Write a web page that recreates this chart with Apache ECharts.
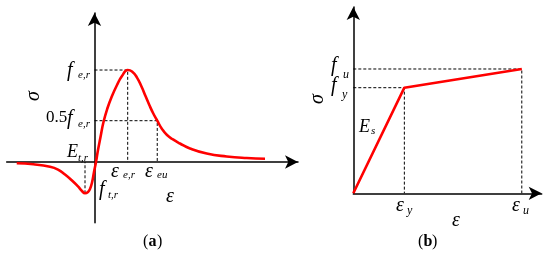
<!DOCTYPE html>
<html><head><meta charset="utf-8">
<script src="https://cdn.jsdelivr.net/npm/echarts@6/dist/echarts.min.js"></script>
<style>html,body{margin:0;padding:0;background:#fff;}#c{width:550px;height:263px;}</style>
</head><body><div id="c"></div>
<script>
// Panel (a): concrete stress-strain curve (normalised: eps/eps_e,r, sigma/f_e,r)
const concreteEps = [-2.343,-1.843,-1.340,-1.099,-0.889,-0.678,-0.497,-0.377,-0.286,-0.196,-0.136,-0.075,-0.015,0.045,0.105,0.181,0.271,0.392,0.527,0.678,0.828,1.0,1.130,1.280,1.422,1.536,1.651,1.771,1.890,2.033,2.184,2.364,2.575,2.877,3.380,3.982,4.584,5.136];
const concreteSig = [-0.014,-0.025,-0.051,-0.082,-0.136,-0.201,-0.266,-0.315,-0.340,-0.326,-0.293,-0.223,-0.109,0,0.130,0.272,0.435,0.587,0.717,0.837,0.935,1.0,0.984,0.918,0.815,0.717,0.620,0.527,0.449,0.359,0.293,0.245,0.201,0.147,0.092,0.060,0.043,0.036];
const peakPoint = [1.0, 1.0];      // (eps_e,r , f_e,r)
const halfPoint = [1.89, 0.449];   // (eps_eu , 0.5 f_e,r)
const tensPoint = [-0.286, -0.34]; // tensile peak f_t,r
const axisA = {xMin: -2.645, xMax: 6.13, yMin: -0.66, yMax: 1.62};

// Panel (b): steel bilinear model (normalised: eps/eps_y, sigma/f_y)
const steelEps = [0, 1, 3.30];
const steelSig = [0, 1, 1.177];
const axisB = {xMin: 0, xMax: 3.69, yMin: 0, yMax: 1.764};

const red = '#ff0000';
const chart = echarts.init(document.getElementById('c'), null, {renderer: 'canvas'});

function zip(a, b) { return a.map((v, i) => [v, b[i]]); }
function dashed(data, xi, yi) {
  return {type: 'line', xAxisIndex: xi, yAxisIndex: yi, data: data, showSymbol: false, silent: true,
    lineStyle: {color: '#000', width: 1, type: [3, 2]}, z: 1};
}
function axisCommon(extra) {
  return Object.assign({
    type: 'value',
    axisLine: {show: true, onZero: true, symbol: ['none', 'arrow'], symbolSize: [10, 13],
      lineStyle: {color: '#000', width: 1.5}},
    axisTick: {show: false}, axisLabel: {show: false}, splitLine: {show: false}
  }, extra);
}

const serif = 'Liberation Serif';
function txt(x, y, s, size, opts) {
  opts = opts || {};
  return {type: 'text', x: x, y: y, rotation: opts.rot || 0, silent: true,
    style: {text: s, fontFamily: serif, fontSize: size, fontStyle: opts.style || 'italic',
      fontWeight: opts.weight || 'normal',
      fill: '#000', align: opts.align || 'left', verticalAlign: opts.va || 'middle'}};
}

const labels = [
  // panel (a)
  txt(34, 96, 'σ', 20, {rot: Math.PI / 2, align: 'center'}),
  txt(67, 71, 'f', 20), txt(78, 75, 'e,r', 11),
  txt(46, 118, '0.5', 17, {style: 'normal'}), txt(67, 119, 'f', 20), txt(78, 124, 'e,r', 11),
  txt(67, 152, 'E', 18), txt(78, 158, 't,r', 11),
  txt(111, 172, 'ε', 20), txt(123, 175, 'e,r', 11),
  txt(145, 172, 'ε', 20), txt(157, 175, 'eu', 11),
  txt(99, 190, 'f', 20), txt(108, 195, 't,r', 11),
  txt(166, 197, 'ε', 20),
  txt(143, 242, '(', 16, {style: 'normal'}), txt(148.5, 242, 'a', 16, {style: 'normal', weight: 'bold'}), txt(157, 242, ')', 16, {style: 'normal'}),
  // panel (b)
  txt(318, 99, 'σ', 20, {rot: Math.PI / 2, align: 'center'}),
  txt(331, 66, 'f', 20), txt(343, 75, 'u', 12),
  txt(331, 86, 'f', 20), txt(342, 95, 'y', 12),
  txt(359, 127, 'E', 18), txt(371, 131, 's', 11),
  txt(396, 206, 'ε', 20), txt(407, 211, 'y', 12),
  txt(512, 206, 'ε', 20), txt(523, 211, 'u', 12),
  txt(452, 221, 'ε', 20),
  txt(418, 242, '(', 16, {style: 'normal'}), txt(423.5, 242, 'b', 16, {style: 'normal', weight: 'bold'}), txt(432, 242, ')', 16, {style: 'normal'})
];

chart.setOption({
  animation: false,
  backgroundColor: '#fff',
  grid: [
    {left: 6.7, right: 252, top: 13, bottom: 40.3},
    {left: 353.3, right: 8.3, top: 7, bottom: 69.7}
  ],
  xAxis: [
    axisCommon({gridIndex: 0, min: axisA.xMin, max: axisA.xMax}),
    axisCommon({gridIndex: 1, min: axisB.xMin, max: axisB.xMax})
  ],
  yAxis: [
    axisCommon({gridIndex: 0, min: axisA.yMin, max: axisA.yMax}),
    axisCommon({gridIndex: 1, min: axisB.yMin, max: axisB.yMax})
  ],
  series: [
    dashed([[0, peakPoint[1]], peakPoint, [peakPoint[0], 0]], 0, 0),
    dashed([[0, halfPoint[1]], halfPoint, [halfPoint[0], 0]], 0, 0),
    dashed([tensPoint, [tensPoint[0], 0]], 0, 0),
    {type: 'line', xAxisIndex: 0, yAxisIndex: 0, data: zip(concreteEps, concreteSig), smooth: 0.5,
      showSymbol: false, lineStyle: {color: red, width: 2.6}, z: 3},
    dashed([[0, steelSig[2]], [steelEps[2], steelSig[2]], [steelEps[2], 0]], 1, 1),
    dashed([[0, steelSig[1]], [steelEps[1], steelSig[1]], [steelEps[1], 0]], 1, 1),
    {type: 'line', xAxisIndex: 1, yAxisIndex: 1, data: zip(steelEps, steelSig),
      showSymbol: false, lineStyle: {color: red, width: 2.6}, z: 3}
  ],
  graphic: labels
});
</script></body></html>
